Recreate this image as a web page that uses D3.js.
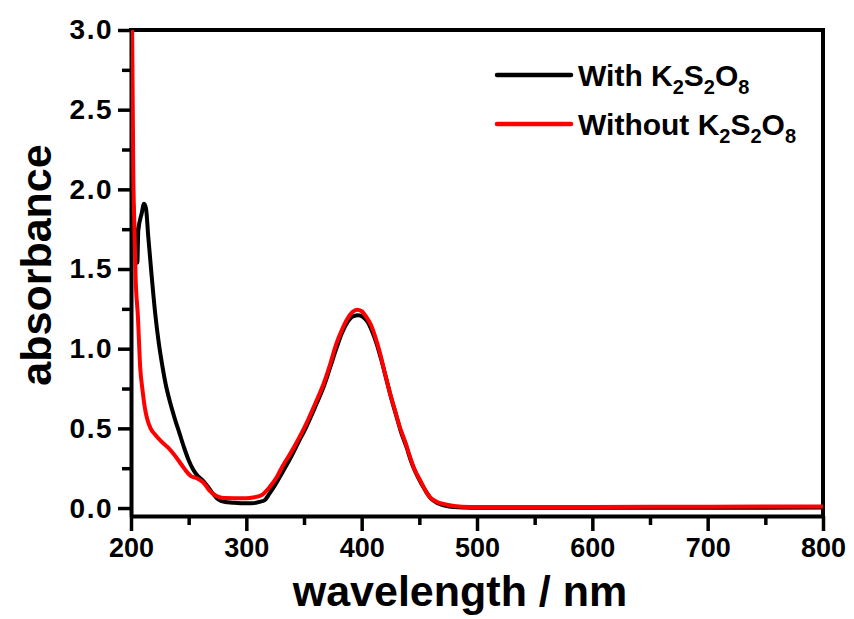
<!DOCTYPE html>
<meta charset="utf-8">
<script src="https://d3js.org/d3.v7.min.js"></script>
<style>
  body { margin: 0; background: #fff; }
  text { font-family: "Liberation Sans", Arial, sans-serif; font-weight: bold; fill: #000; }
</style>
<div id="my_dataviz"></div>
<script>
// spectrum with K2S2O8 (black)
var withNm = [202, 204, 205.5, 206.3, 209.3, 211.3, 213, 215, 218, 221, 224, 227, 230, 234, 238, 242, 246, 250, 254, 258, 262, 266, 270, 274, 278, 284, 290, 298, 305, 311, 316, 320, 325, 331, 338, 345, 352, 360, 367, 373, 378, 383, 388, 393, 397, 401, 405, 409, 413, 417, 421, 426, 430, 434, 439, 443, 447, 452, 456, 460, 466, 472, 480, 495, 600, 700, 800];
var withAbs = [1.9, 1.62, 1.54, 1.74, 1.85, 1.91, 1.88, 1.70, 1.45, 1.22, 1.04, 0.90, 0.78, 0.66, 0.56, 0.47, 0.38, 0.30, 0.24, 0.20, 0.175, 0.14, 0.10, 0.065, 0.045, 0.036, 0.033, 0.03, 0.03, 0.038, 0.05, 0.09, 0.145, 0.22, 0.31, 0.41, 0.51, 0.64, 0.76, 0.89, 1.0, 1.1, 1.17, 1.205, 1.21, 1.2, 1.17, 1.11, 1.03, 0.93, 0.82, 0.68, 0.58, 0.48, 0.38, 0.29, 0.22, 0.15, 0.1, 0.06, 0.03, 0.015, 0.006, 0.002, 0.001, 0.002, 0.003];

// spectrum without K2S2O8 (red)
var withoutNm = [200, 201, 202, 203, 204, 206, 208, 210, 212, 214, 217, 221, 226, 232, 238, 244, 248, 252, 256, 260, 264, 268, 272, 276, 281, 290, 300, 306, 313, 320, 326, 332, 338, 345, 352, 360, 367, 373, 378, 383, 387, 392, 396, 400, 404, 408, 412, 416, 420, 425, 429, 433, 438, 442, 446, 451, 455, 459, 465, 471, 480, 494, 550, 600, 700, 800];
var withoutAbs = [3.6, 3.0, 2.1, 1.75, 1.45, 1.2, 0.88, 0.74, 0.63, 0.56, 0.5, 0.46, 0.42, 0.38, 0.33, 0.27, 0.23, 0.2, 0.19, 0.175, 0.15, 0.11, 0.085, 0.07, 0.063, 0.062, 0.062, 0.066, 0.08, 0.13, 0.19, 0.27, 0.34, 0.43, 0.53, 0.66, 0.78, 0.91, 1.03, 1.12, 1.18, 1.23, 1.245, 1.235, 1.2, 1.15, 1.07, 0.97, 0.85, 0.71, 0.61, 0.51, 0.41, 0.32, 0.24, 0.17, 0.115, 0.07, 0.04, 0.025, 0.013, 0.007, 0.006, 0.007, 0.008, 0.01];

var xTicks = [200, 300, 400, 500, 600, 700, 800];
var yTicks = [0.0, 0.5, 1.0, 1.5, 2.0, 2.5, 3.0];

var margin = {top: 30, right: 31, bottom: 103, left: 131},
    width = 854 - margin.left - margin.right,
    height = 619 - margin.top - margin.bottom;

var svg = d3.select("#my_dataviz")
  .append("svg")
    .attr("width", 854)
    .attr("height", 619)
  .append("g")
    .attr("transform", "translate(" + margin.left + "," + margin.top + ")");

var x = d3.scaleLinear().domain([200, 800]).range([0, width]);
var y = d3.scaleLinear().domain([-0.05, 3.0]).range([height, 0]);

svg.append("clipPath").attr("id", "clip")
  .append("rect").attr("width", width).attr("height", height);

// minor ticks first, then the major axes on top
svg.append("g")
  .attr("transform", "translate(0," + height + ")")
  .call(d3.axisBottom(x).tickValues(d3.range(250, 800, 100)).tickSize(9).tickFormat(""))
  .call(function(g) { g.select(".domain").remove(); g.selectAll("line").attr("stroke-width", 3.5); });

svg.append("g")
  .call(d3.axisLeft(y).tickValues(d3.range(0.25, 3, 0.5)).tickSize(9).tickFormat(""))
  .call(function(g) { g.select(".domain").remove(); g.selectAll("line").attr("stroke-width", 3.5); });

var xAxis = svg.append("g")
  .attr("transform", "translate(0," + height + ")")
  .call(d3.axisBottom(x).tickValues(xTicks).tickSize(15).tickSizeOuter(0).tickPadding(7));
xAxis.selectAll("text").style("font-size", "27px");

var yAxis = svg.append("g")
  .call(d3.axisLeft(y).tickValues(yTicks).tickSize(13).tickSizeOuter(0).tickPadding(5)
    .tickFormat(d3.format(".1f")));
yAxis.selectAll("text").style("font-size", "28px").style("letter-spacing", "1.5px");

[xAxis, yAxis].forEach(function(g) {
  g.select(".domain").attr("stroke-width", 4);
  g.selectAll("line").attr("stroke-width", 3.5);
});

// top and right frame
svg.append("line").attr("x1", -2).attr("x2", width + 2).attr("y1", 0).attr("y2", 0)
  .attr("stroke", "#000").attr("stroke-width", 4);
svg.append("line").attr("x1", width).attr("x2", width).attr("y1", 0).attr("y2", height)
  .attr("stroke", "#000").attr("stroke-width", 4);

var line = d3.line()
  .curve(d3.curveMonotoneX)
  .x(function(d) { return x(d[0]); })
  .y(function(d) { return y(d[1]); });

var series = [
  {nm: withNm, abs: withAbs, color: "#000000", w: 4},
  {nm: withoutNm, abs: withoutAbs, color: "#ff0000", w: 4}
];

var plot = svg.append("g").attr("clip-path", "url(#clip)");
series.forEach(function(s) {
  plot.append("path")
    .datum(d3.zip(s.nm, s.abs))
    .attr("d", line)
    .attr("fill", "none")
    .attr("stroke", s.color)
    .attr("stroke-width", s.w)
    .attr("stroke-linejoin", "round");
});

// legend
var legend = svg.append("g").attr("transform", "translate(366,45)");
var legendLabels = [["With K", "2", "S", "2", "O", "8"], ["Without K", "2", "S", "2", "O", "8"]];
legendLabels.forEach(function(parts, i) {
  var row = legend.append("g").attr("transform", "translate(0," + (i * 49) + ")");
  row.append("line").attr("x1", 0).attr("x2", 74).attr("y1", 0).attr("y2", 0)
    .attr("stroke", series[i].color).attr("stroke-width", 4.5)
    .attr("stroke-linecap", "round");
  var t = row.append("text").attr("x", 81).attr("y", 11).style("font-size", "30px");
  parts.forEach(function(p, j) {
    var ts = t.append("tspan").text(p);
    if (j % 2 == 1) ts.style("font-size", "20px").attr("dy", 8);
    else if (j > 0) ts.attr("dy", -8);
  });
});

// axis titles
svg.append("text")
  .attr("x", width / 2 - 17)
  .attr("y", height + 90)
  .attr("text-anchor", "middle")
  .style("font-size", "43px")
  .text("wavelength / nm");

svg.append("text")
  .attr("transform", "rotate(-90)")
  .attr("x", -(265 - margin.top))
  .attr("y", -80)
  .attr("text-anchor", "middle")
  .style("font-size", "43px")
  .text("absorbance");
</script>
